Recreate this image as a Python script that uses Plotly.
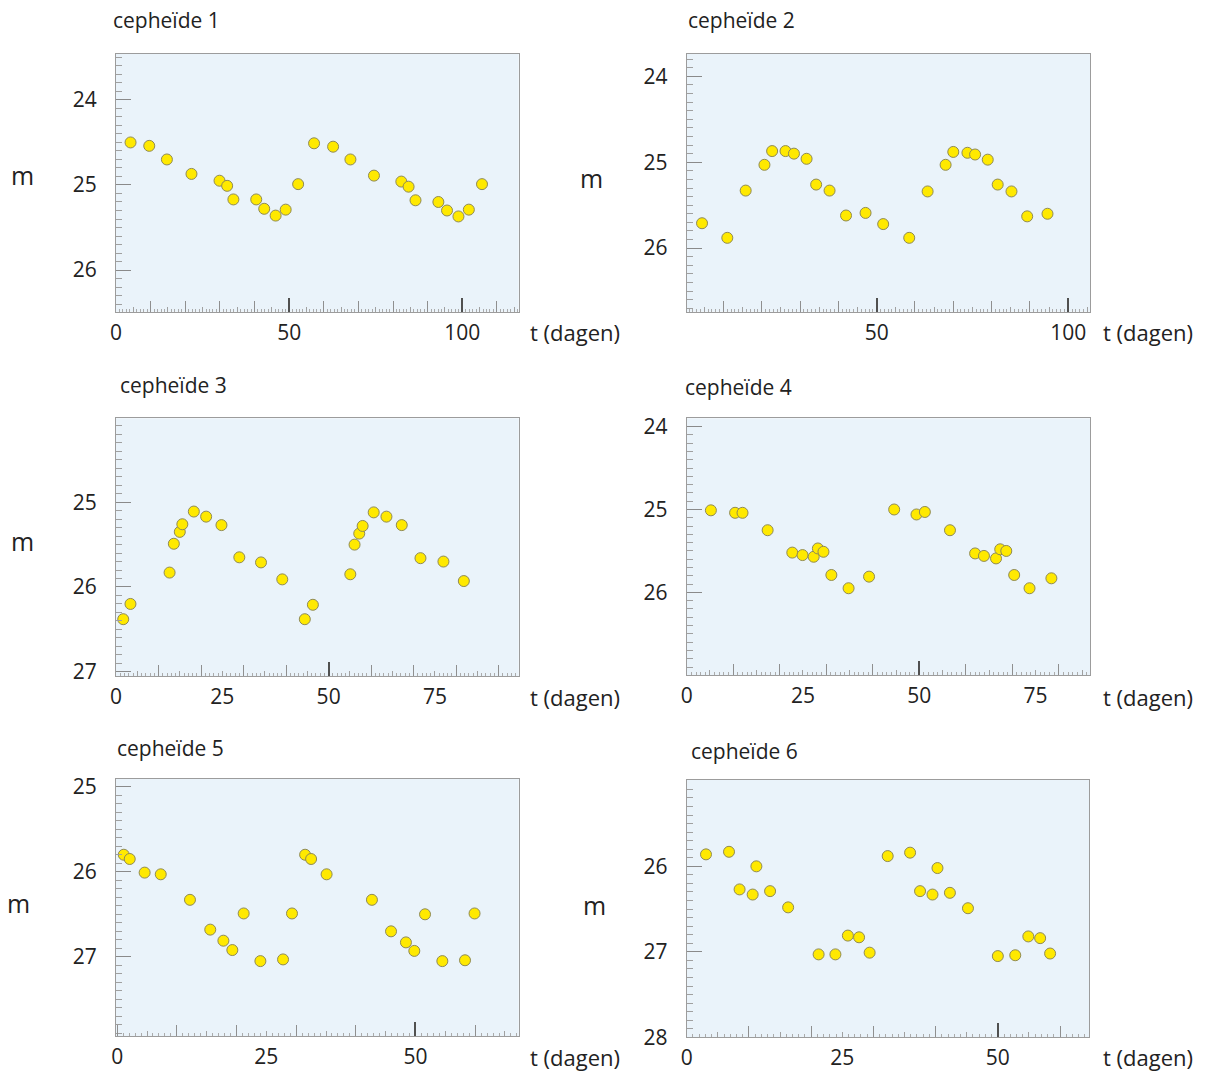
import plotly.graph_objects as go

W, H = 1205, 1072

# ---------------- data ----------------
titles = ["cepheïde 1", "cepheïde 2", "cepheïde 3", "cepheïde 4", "cepheïde 5", "cepheïde 6"]

t1 = [4.2, 9.6, 14.7, 21.8, 29.9, 32.1, 33.9, 40.5, 42.8, 46.1, 49.0, 52.6,
      57.2, 62.7, 67.7, 74.5, 82.4, 84.5, 86.5, 93.1, 95.6, 98.9, 101.9, 105.7]
m1 = [24.50, 24.54, 24.70, 24.87, 24.95, 25.01, 25.17, 25.17, 25.28, 25.36, 25.29, 24.99,
      24.51, 24.55, 24.70, 24.89, 24.96, 25.02, 25.18, 25.20, 25.30, 25.37, 25.29, 24.99]

t2 = [4.4, 11.0, 15.8, 20.7, 22.7, 26.2, 28.4, 31.7, 34.2, 37.7, 42.0, 47.1,
      51.7, 58.5, 63.3, 68.0, 70.0, 73.7, 75.7, 79.0, 81.6, 85.2, 89.3, 94.6]
m2 = [25.71, 25.88, 25.33, 25.03, 24.87, 24.87, 24.90, 24.96, 25.26, 25.33, 25.62, 25.59,
      25.72, 25.88, 25.34, 25.03, 24.88, 24.89, 24.91, 24.97, 25.26, 25.34, 25.63, 25.60]

t3 = [1.7, 3.4, 12.6, 13.6, 15.0, 15.6, 18.3, 21.2, 24.8, 29.0, 34.1, 39.1,
      44.4, 46.3, 55.1, 56.1, 57.2, 58.0, 60.6, 63.6, 67.2, 71.6, 77.0, 81.8]
m3 = [26.38, 26.20, 25.83, 25.49, 25.35, 25.26, 25.11, 25.17, 25.27, 25.65, 25.71, 25.91,
      26.38, 26.21, 25.85, 25.50, 25.37, 25.28, 25.12, 25.17, 25.27, 25.66, 25.70, 25.93]

t4 = [5.2, 10.4, 12.0, 17.4, 22.7, 24.9, 27.3, 28.2, 29.4, 31.1, 34.8, 39.2,
      44.6, 49.4, 51.2, 56.6, 62.0, 63.9, 66.5, 67.4, 68.7, 70.4, 73.7, 78.4]
m4 = [25.01, 25.04, 25.04, 25.25, 25.52, 25.55, 25.57, 25.47, 25.51, 25.79, 25.95, 25.81,
      25.00, 25.06, 25.03, 25.25, 25.53, 25.56, 25.59, 25.48, 25.50, 25.79, 25.95, 25.83]

t5 = [1.1, 2.1, 4.6, 7.3, 12.2, 15.6, 17.8, 19.3, 21.2, 24.0, 27.8, 29.3,
      31.5, 32.5, 35.1, 42.7, 45.9, 48.4, 49.8, 51.6, 54.5, 58.3, 59.9]
m5 = [25.80, 25.85, 26.01, 26.03, 26.33, 26.68, 26.81, 26.92, 26.49, 27.05, 27.03, 26.49,
      25.80, 25.85, 26.03, 26.33, 26.70, 26.83, 26.93, 26.50, 27.05, 27.04, 26.49]

t6 = [3.1, 6.8, 8.5, 10.6, 11.2, 13.4, 16.3, 21.2, 23.9, 25.9, 27.7, 29.4,
      32.3, 35.9, 37.5, 39.5, 40.3, 42.3, 45.2, 50.0, 52.8, 54.9, 56.8, 58.4]
m6 = [25.86, 25.83, 26.27, 26.33, 26.00, 26.29, 26.48, 27.03, 27.03, 26.81, 26.83, 27.01,
      25.88, 25.84, 26.29, 26.33, 26.02, 26.31, 26.49, 27.05, 27.04, 26.82, 26.84, 27.02]

x_ticklabels = [[0, 50, 100], [0, 50, 100], [0, 25, 50, 75], [0, 25, 50, 75], [0, 25, 50], [0, 25, 50]]
y_ticklabels = [[24, 25, 26], [24, 25, 26], [25, 26, 27], [24, 25, 26], [25, 26, 27], [26, 27, 28]]

x_label = "t (dagen)"
y_label = "m"

times = [t1, t2, t3, t4, t5, t6]
mags = [m1, m2, m3, m4, m5, m6]

# ---------------- layout geometry (pixels) ----------------
boxes = [
    (116, 518.7, 54, 311.7),
    (686.7, 1090, 54, 311.7),
    (116, 518.7, 418.3, 676),
    (686.7, 1090, 418.3, 675.3),
    (116, 518.7, 779, 1036),
    (686.7, 1089.3, 780, 1037.3),
]
x_ranges = [[0, 116.3], [0.4, 105.7], [0, 94.7], [0, 86.7], [-0.2, 67.3], [0, 64.7]]
y_ranges = [[26.49, 23.46], [26.74, 23.74], [27.05, 24.01], [27.0, 23.9], [27.93, 24.91], [28.0, 24.99]]

title_pos = [(111, 20), (686, 20), (118, 385), (683, 387), (115, 748), (689, 751)]
m_pos = [(22, 175), (591, 178), (22, 541), None, (18, 903), (594, 905)]
tlabel_pos = [(528, 332), (1101, 332), (528, 697), (1101, 697), (528, 1057), (1101, 1057)]

FONT = "Open Sans"
TXT = "#222222"
BG = "#EAF3FA"
LINE = "#9c9c9c"


def xr(k):
    return "x" if k == 1 else f"x{k}"


def yr(k):
    return "y" if k == 1 else f"y{k}"


def xk(k):
    return "xaxis" if k == 1 else f"xaxis{k}"


def yk(k):
    return "yaxis" if k == 1 else f"yaxis{k}"


fig = go.Figure()
layout = dict(
    width=W, height=H,
    margin=dict(l=0, r=0, t=0, b=0, pad=0, autoexpand=False),
    paper_bgcolor="white",
    plot_bgcolor=BG,
    showlegend=False,
    font=dict(family=FONT, color=TXT),
)
annotations = []
next_axis = 7

for i in range(6):
    n = i + 1
    L, R, T, B = boxes[i]
    xd = [L / W, R / W]
    yd = [1 - B / H, 1 - T / H]
    x0, x1 = x_ranges[i]

    fig.add_trace(go.Scatter(
        x=times[i], y=mags[i], mode="markers",
        xaxis=xr(n), yaxis=yr(n),
        marker=dict(size=11, color="#FFE900", line=dict(color="#8f8a55", width=1)),
        hoverinfo="x+y",
    ))

    layout[xk(n)] = dict(
        domain=xd, anchor=yr(n), range=[x0, x1], autorange=False,
        showgrid=False, zeroline=False,
        showline=True, mirror=True, linecolor=LINE, linewidth=1,
        ticks="inside", tickmode="array",
        tickvals=[v for v in range(0, 200, 5) if x0 <= v <= x1],
        ticklen=5, tickcolor="#a0a0a0", tickwidth=1,
        showticklabels=False,
        minor=dict(ticks="inside", tickmode="linear", tick0=0, dtick=1,
                   ticklen=3, tickcolor="#ababab", tickwidth=1, showgrid=False),
    )
    layout[yk(n)] = dict(
        domain=yd, anchor=xr(n), range=y_ranges[i], autorange=False,
        showgrid=False, zeroline=False,
        showline=True, mirror=True, linecolor=LINE, linewidth=1,
        ticks="inside", tickmode="array",
        tickvals=y_ticklabels[i], ticktext=[str(v) for v in y_ticklabels[i]],
        ticklen=15, tickcolor="#8a8a8a", tickwidth=1,
        tickfont=dict(size=21, color=TXT, family=FONT),
        ticklabelstandoff=14,
        minor=dict(ticks="inside", tickmode="linear", tick0=0, dtick=0.1,
                   ticklen=6, tickcolor="#a0a0a0", tickwidth=1, showgrid=False),
    )

    kB = next_axis; next_axis += 1
    layout[xk(kB)] = dict(
        overlaying=xr(n), anchor=yr(n), range=[x0, x1], autorange=False,
        showgrid=False, zeroline=False, showline=False,
        ticks="inside", tickmode="array",
        tickvals=[v for v in range(0, 200, 10) if x0 <= v <= x1],
        ticklen=11, tickcolor="#8f8f8f", tickwidth=1, showticklabels=False,
    )
    kC = next_axis; next_axis += 1
    layout[xk(kC)] = dict(
        overlaying=xr(n), anchor=yr(n), range=[x0, x1], autorange=False,
        showgrid=False, zeroline=False, showline=False,
        ticks="inside", tickmode="array",
        tickvals=[v for v in range(50, 200, 50) if x0 <= v <= x1],
        ticklen=14, tickcolor="#505050", tickwidth=2.2, showticklabels=False,
    )
    kD = next_axis; next_axis += 1
    layout[xk(kD)] = dict(
        overlaying=xr(n), anchor=yr(n), range=[x0, x1], autorange=False,
        showgrid=False, zeroline=False, showline=False,
        ticks="", tickmode="array",
        tickvals=x_ticklabels[i], ticktext=[str(v) for v in x_ticklabels[i]],
        tickfont=dict(size=21, color=TXT, family=FONT),
        ticklabelstandoff=6,
    )
    for k in (kB, kC, kD):
        fig.add_trace(go.Scatter(x=[], y=[], xaxis=xr(k), yaxis=yr(n),
                                 mode="markers", hoverinfo="skip", showlegend=False))

    px, py = title_pos[i]
    annotations.append(dict(text=titles[i], x=px / W, y=1 - py / H, xref="paper", yref="paper",
                            xanchor="left", yanchor="middle", showarrow=False,
                            font=dict(size=21, color=TXT, family=FONT)))
    px, py = tlabel_pos[i]
    annotations.append(dict(text=x_label, x=px / W, y=1 - py / H, xref="paper", yref="paper",
                            xanchor="left", yanchor="middle", showarrow=False,
                            font=dict(size=22, color=TXT, family=FONT)))
    if m_pos[i] is not None:
        px, py = m_pos[i]
        annotations.append(dict(text=y_label, x=px / W, y=1 - py / H, xref="paper", yref="paper",
                                xanchor="center", yanchor="middle", showarrow=False,
                                font=dict(size=25, color=TXT, family=FONT)))

layout["annotations"] = annotations
fig.update_layout(**layout)
fig.write_html("out.html", config={"displayModeBar": False},
               post_script="document.body.style.margin='0';")
